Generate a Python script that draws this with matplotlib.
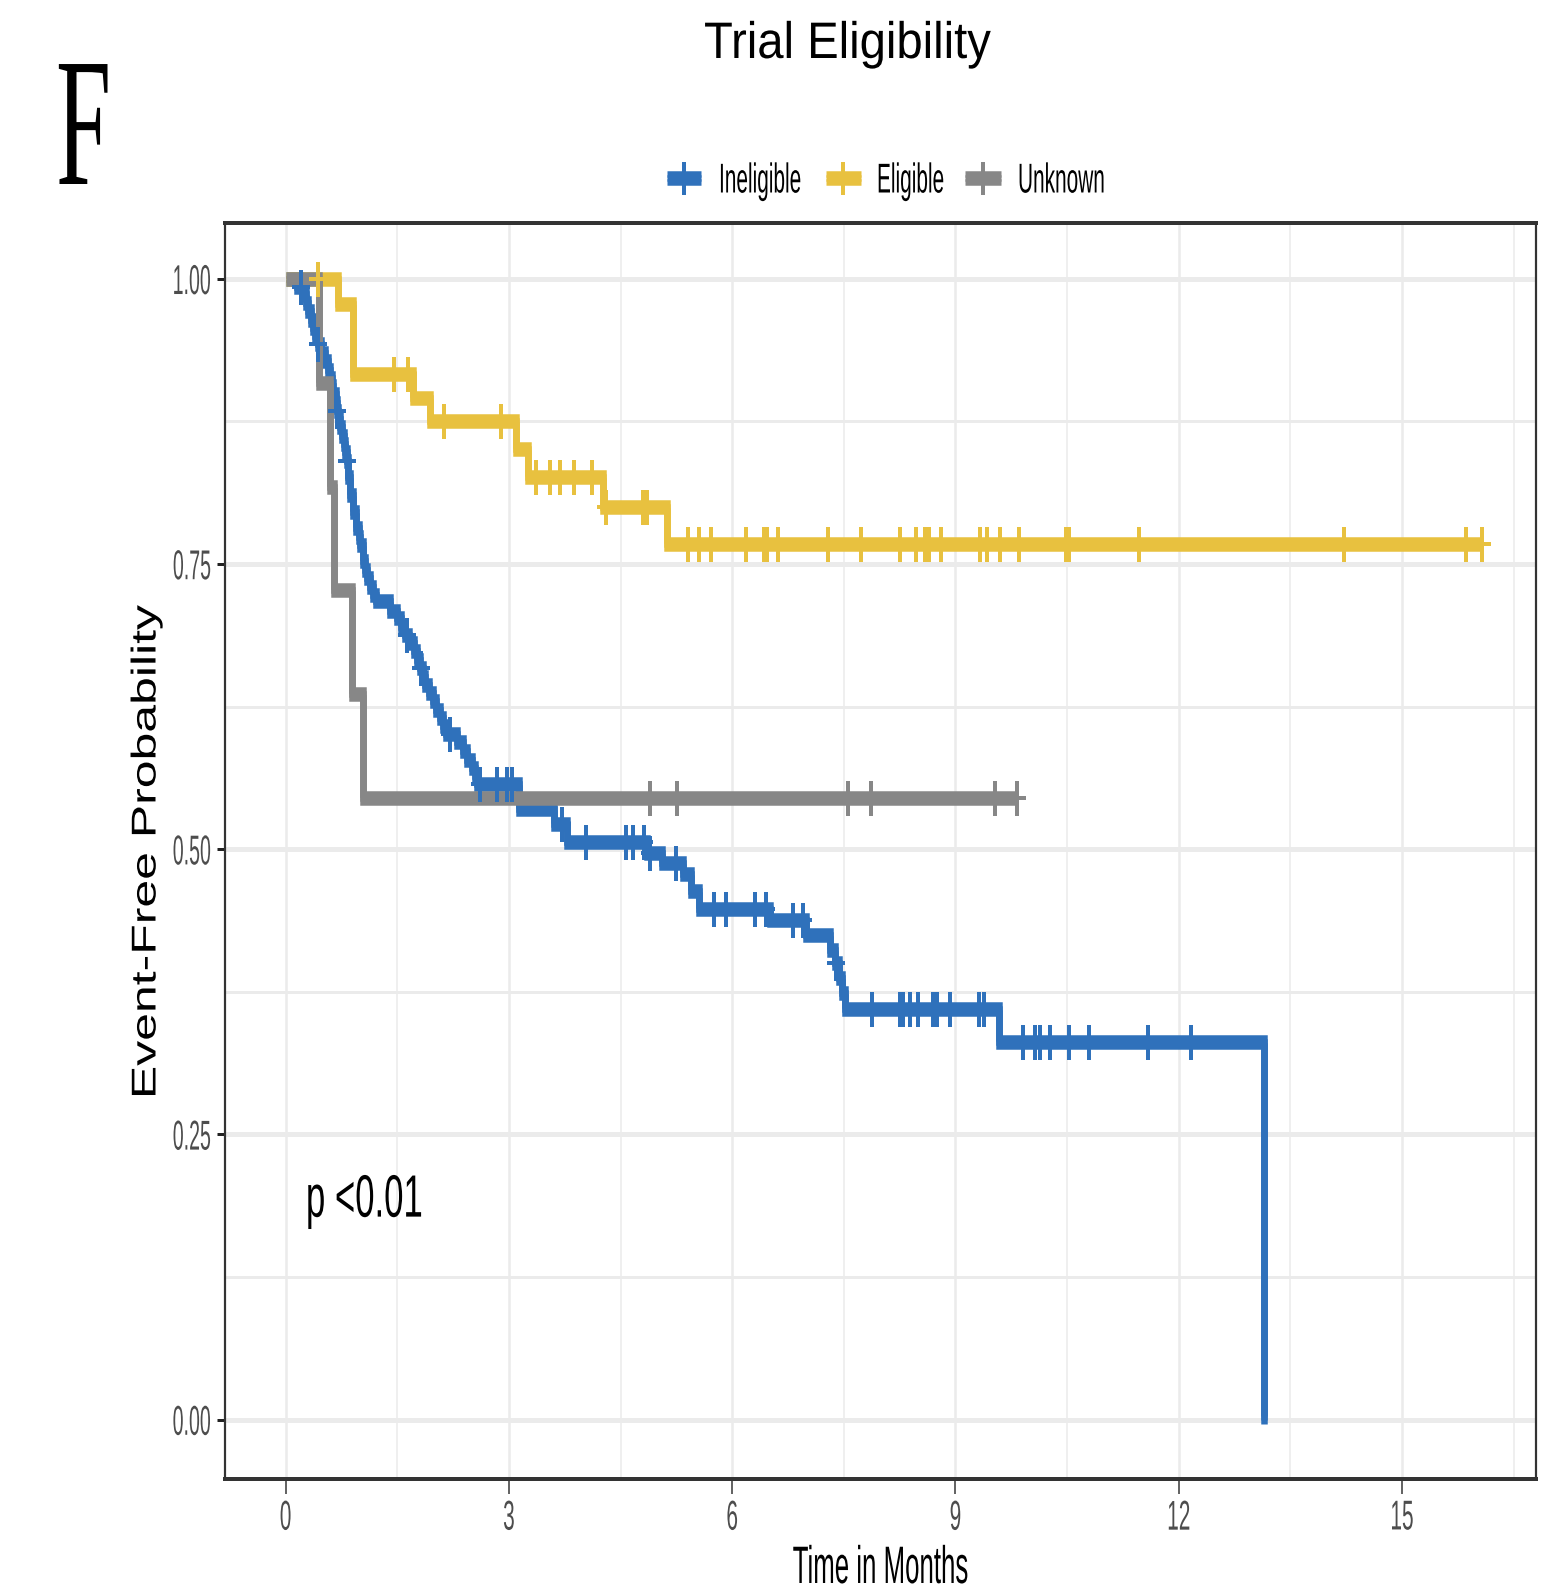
import numpy as np
import matplotlib
matplotlib.use('Agg')
import matplotlib.pyplot as plt
from matplotlib import patheffects
from matplotlib.transforms import Affine2D
from matplotlib.path import Path
from matplotlib.markers import MarkerStyle
from matplotlib.lines import Line2D

# ---------------- data ----------------
groups = ['Ineligible', 'Eligible', 'Unknown']
colors = ['#2F71BB', '#E8C13F', '#878787']

# Ineligible: times of drops and survival level after each drop
inel_step_t = [0.15, 0.24, 0.27, 0.30, 0.34, 0.37, 0.40, 0.43, 0.48, 0.53,
               0.57, 0.60, 0.62, 0.64, 0.67, 0.69, 0.71, 0.73, 0.76, 0.78,
               0.80, 0.82, 0.84, 0.87, 0.91, 0.945, 0.98, 1.00, 1.04, 1.07,
               1.09, 1.13, 1.17, 1.22, 1.40, 1.49, 1.55, 1.60, 1.66, 1.72,
               1.76, 1.80, 1.84, 1.87, 1.93, 1.98, 2.02, 2.07, 2.11, 2.16,
               2.30, 2.38, 2.44, 2.50, 2.54, 2.57, 3.13, 3.60, 3.78, 4.86,
               5.05, 5.34, 5.45, 5.55, 6.51, 6.99, 7.32, 7.38, 7.43, 7.47,
               7.52, 9.58, 13.15]
inel_step_s = [0.993, 0.987, 0.979, 0.972, 0.964, 0.957, 0.950, 0.943, 0.935, 0.928,
               0.920, 0.913, 0.906, 0.899, 0.891, 0.884, 0.877, 0.870, 0.862, 0.855,
               0.848, 0.840, 0.826, 0.811, 0.796, 0.782, 0.774, 0.767, 0.753, 0.745,
               0.738, 0.730, 0.723, 0.718, 0.709, 0.703, 0.695, 0.688, 0.681, 0.674,
               0.666, 0.659, 0.651, 0.644, 0.637, 0.630, 0.622, 0.615, 0.608, 0.601,
               0.594, 0.586, 0.578, 0.571, 0.564, 0.557, 0.535, 0.522, 0.506, 0.497,
               0.488, 0.478, 0.463, 0.448, 0.438, 0.425, 0.412, 0.400, 0.387, 0.374,
               0.360, 0.331, 0.0]
inel_cens_t = [0.20, 0.43, 0.69, 0.82, 1.63, 1.82, 2.21, 2.61, 2.84, 2.98,
               3.04, 3.71, 4.04, 4.57, 4.67, 4.81, 4.89, 5.25, 5.75, 5.92,
               6.31, 6.46, 6.82, 6.95, 7.40, 7.88, 8.26, 8.30, 8.39, 8.50,
               8.70, 8.75, 8.92, 9.31, 9.38, 9.91, 10.07, 10.14, 10.27, 10.53,
               10.80, 11.59, 12.16]
inel_end = 13.15

# Eligible
elig_step_t = [0.70, 0.90, 1.71, 1.94, 3.10, 3.26, 4.27, 5.13]
elig_step_s = [0.978, 0.917, 0.896, 0.875, 0.851, 0.826, 0.800, 0.768]
elig_cens_t = [0.44, 1.46, 1.64, 2.13, 2.89, 3.37, 3.55, 3.68, 3.87, 4.11,
               4.30, 4.80, 4.85, 5.41, 5.56, 5.71, 6.19, 6.43, 6.47, 6.61,
               7.29, 7.73, 8.25, 8.47, 8.59, 8.65, 8.81, 9.33, 9.43, 9.60,
               9.86, 10.49, 10.53, 11.47, 14.22, 15.86, 16.08]
elig_end = 16.08

# Unknown
unk_step_t = [0.45, 0.60, 0.65, 0.89, 1.04]
unk_step_s = [0.909, 0.818, 0.727, 0.636, 0.545]
unk_cens_t = [4.89, 5.26, 7.56, 7.86, 9.53, 9.83]
unk_end = 9.83

x_ticks = [0, 3, 6, 9, 12, 15]
x_tick_labels = ['0', '3', '6', '9', '12', '15']
y_ticks = [0.0, 0.25, 0.50, 0.75, 1.00]
y_tick_labels = ['0.00', '0.25', '0.50', '0.75', '1.00']
title = 'Trial Eligibility'
panel_letter = 'F'
x_label = 'Time in Months'
y_label = 'Event-Free Probability'
p_text = 'p <0.01'

# ---------------- helpers ----------------
W, H, DPI = 1559, 1588, 100
SANS = 'Liberation Sans'
SERIF = 'Liberation Serif'


class Stretch(patheffects.AbstractPathEffect):
    """Draw text stretched (the reference image has tall, narrow lettering)."""
    def __init__(self, sx=1.0, sy=1.0, anchor_x='center', anchor_y='center'):
        super().__init__((0, 0))
        self.sx, self.sy = sx, sy
        self.ax_, self.ay_ = anchor_x, anchor_y

    def draw_path(self, renderer, gc, tpath, affine, rgbFace=None):
        v = tpath.vertices
        if tpath.codes is not None:
            v = v[(tpath.codes != Path.CLOSEPOLY) & (tpath.codes != Path.STOP)]
        if len(v) == 0:
            return
        d = affine.transform(v)
        xmin, xmax = d[:, 0].min(), d[:, 0].max()
        ymin, ymax = d[:, 1].min(), d[:, 1].max()
        x0 = {'left': xmin, 'right': xmax}.get(self.ax_, 0.5 * (xmin + xmax))
        if self.ay_ == 'baseline':
            y0 = affine.transform(np.array([[0.0, 0.0]]))[0, 1]
        else:
            y0 = {'bottom': ymin, 'top': ymax}.get(self.ay_, 0.5 * (ymin + ymax))
        t = affine + Affine2D().translate(-x0, -y0).scale(self.sx, self.sy).translate(x0, y0)
        renderer.draw_path(gc, tpath, t, rgbFace)


def px2pt(p):
    return p * 72.0 / DPI


def km_xy(step_t, step_s, end_t):
    t = [0.0] + list(step_t) + [end_t]
    s = [1.0] + list(step_s) + [step_s[-1]]
    return np.array(t), np.array(s)


def level_at(step_t, step_s, times):
    st = np.array(step_t)
    ss = np.array([1.0] + list(step_s))
    idx = np.searchsorted(st, np.array(times), side='right')
    return ss[idx]


plus_marker = MarkerStyle(Path([(0, -1), (0, 1), (-0.5, 0), (0.5, 0)],
                               [Path.MOVETO, Path.LINETO, Path.MOVETO, Path.LINETO]))

LW = px2pt(6.5)
OFF = px2pt(4.0)
line_pe = [patheffects.Stroke(offset=(0, OFF)),
           patheffects.Stroke(offset=(0, -OFF)),
           patheffects.Normal()]

# ---------------- figure ----------------
fig = plt.figure(figsize=(W / DPI, H / DPI), dpi=DPI)
fig.patch.set_facecolor('white')

left, right, top, bottom = 225, 1536, 223, 1479
ax = fig.add_axes([left / W, (H - bottom) / H, (right - left) / W, (bottom - top) / H])
ax.set_xlim(-0.815, 16.80)
ax.set_ylim(-0.052, 1.049)

series = [
    (inel_step_t, inel_step_s, inel_cens_t, inel_end),
    (elig_step_t, elig_step_s, elig_cens_t, elig_end),
    (unk_step_t, unk_step_s, unk_cens_t, unk_end),
]

for i, (st, ss, ct, et) in enumerate(series):
    t, s = km_xy(st, ss, et)
    ln, = ax.step(t, s, where='post', color=colors[i], lw=LW, zorder=3 + i,
                  solid_capstyle='butt', solid_joinstyle='miter', label=groups[i])
    ln.set_path_effects(line_pe)

for i, (st, ss, ct, et) in enumerate(series):
    ax.plot(ct, level_at(st, ss, ct), linestyle='none', marker=plus_marker,
            markersize=px2pt(35), markeredgewidth=px2pt(4),
            color=colors[i], zorder=7 + i)

# grid
ax.set_xticks(x_ticks)
ax.set_xticklabels(x_tick_labels)
ax.set_xticks([1.5, 4.5, 7.5, 10.5, 13.5, 16.5], minor=True)
ax.set_yticks(y_ticks)
ax.set_yticklabels(y_tick_labels)
ax.set_yticks([0.125, 0.375, 0.625, 0.875], minor=True)
ax.set_axisbelow(True)
gc_ = '#EBEBEB'
ax.grid(which='major', axis='y', color=gc_, lw=px2pt(5))
ax.grid(which='minor', axis='y', color=gc_, lw=px2pt(3))
ax.grid(which='major', axis='x', color=gc_, lw=px2pt(2.5))
ax.grid(which='minor', axis='x', color=gc_, lw=px2pt(1.5))

for sp in ['left', 'right']:
    ax.spines[sp].set_linewidth(px2pt(2.2))
    ax.spines[sp].set_color('#333333')
for sp in ['top', 'bottom']:
    ax.spines[sp].set_linewidth(px2pt(4))
    ax.spines[sp].set_color('#333333')

ax.tick_params(which='minor', length=0)
ax.tick_params(axis='x', which='major', length=px2pt(15), width=px2pt(1.5),
               color='#333333', pad=4.4, labelsize=15, labelcolor='#4D4D4D')
ax.tick_params(axis='y', which='major', length=px2pt(8), width=px2pt(3),
               color='#222222', pad=4.3, labelsize=14.1, labelcolor='#4D4D4D')
for lab in ax.get_xticklabels() + ax.get_yticklabels():
    lab.set_fontfamily(SANS)

# axis titles
ax.set_xlabel(x_label, fontsize=18.6, family=SANS, color='black')
ax.xaxis.set_label_coords(0.5, (bottom - 1583) / (bottom - top))
ax.xaxis.label.set_va('baseline')
ax.xaxis.label.set_path_effects([Stretch(1.0, 2.04, 'center', 'baseline')])

ax.set_ylabel(y_label, fontsize=24.8, family=SANS, color='black')
ax.yaxis.label.set_rotation_mode('default')
ax.yaxis.label.set_va('center')
ax.yaxis.label.set_ha('center')
ax.yaxis.set_label_coords((147 - left) / (right - left), 0.5)
ax.yaxis.label.set_path_effects([Stretch(1.0, 1.45, 'center', 'center')])

# p-value
ax.text(0.273, 0.178, p_text, fontsize=25, family=SANS, ha='left', va='baseline',
        color='black', path_effects=[Stretch(1.0, 1.72, 'left', 'baseline')])

# title and panel letter
fig.text(847 / W, 1 - 58 / H, title, fontsize=34, family=SANS, ha='center',
         va='baseline', color='black',
         path_effects=[Stretch(1.0, 1.087, 'center', 'baseline')])
fig.text(56 / W, 1 - 184 / H, panel_letter, fontsize=71.3, family=SERIF, ha='left',
         va='baseline', color='black',
         path_effects=[Stretch(1.0, 1.85, 'left', 'baseline')])

# legend (drawn by hand because its lettering is stretched)
key_x = [(667, 701), (826, 861), (965, 1001)]
txt_x = [719, 877, 1018]
ky = 178
for i in range(3):
    x0, x1 = key_x[i]
    kl = Line2D([x0 / W, x1 / W], [1 - ky / H, 1 - ky / H], transform=fig.transFigure,
                color=colors[i], lw=LW, solid_capstyle='butt')
    kl.set_path_effects(line_pe)
    fig.add_artist(kl)
    km = Line2D([(x0 + x1) / 2 / W], [1 - ky / H], transform=fig.transFigure,
                linestyle='none', marker=plus_marker, markersize=px2pt(33),
                markeredgewidth=px2pt(4), color=colors[i])
    fig.add_artist(km)
    fig.text(txt_x[i] / W, 1 - 192.5 / H, groups[i], fontsize=15, family=SANS,
             ha='left', va='baseline', color='black',
             path_effects=[Stretch(1.0, 2.0, 'left', 'baseline')])

fig.canvas.draw()
for lab in ax.get_xticklabels():
    lab.set_path_effects([Stretch(1.0, 2.0, 'center', 'top')])
for lab in ax.get_yticklabels():
    lab.set_path_effects([Stretch(1.0, 2.13, 'right', 'center')])

fig.savefig('out.png', dpi=DPI, facecolor='white')
